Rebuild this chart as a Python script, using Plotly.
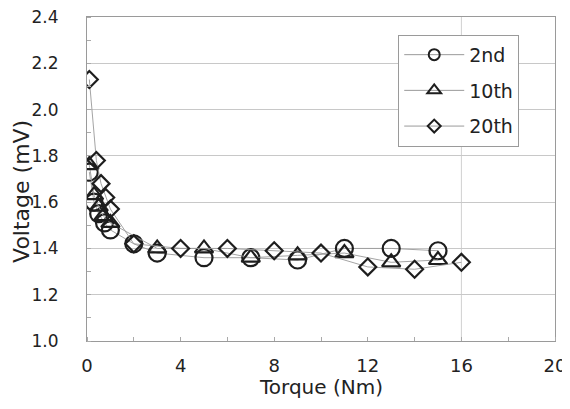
import plotly.graph_objects as go

# Data
torque_2nd = [0.1, 0.3, 0.5, 0.75, 1.0, 2, 3, 5, 7, 9, 11, 13, 15]
volt_2nd = [1.73, 1.60, 1.55, 1.51, 1.48, 1.42, 1.38, 1.36, 1.36, 1.35, 1.40, 1.40, 1.39]

torque_10th = [0.1, 0.3, 0.5, 0.7, 1.0, 3, 5, 7, 9, 11, 13, 15]
volt_10th = [1.76, 1.63, 1.58, 1.54, 1.51, 1.40, 1.40, 1.36, 1.37, 1.38, 1.34, 1.35]

torque_20th = [0.1, 0.4, 0.6, 0.8, 1.0, 2, 4, 6, 8, 10, 12, 14, 16]
volt_20th = [2.13, 1.78, 1.68, 1.62, 1.57, 1.42, 1.40, 1.40, 1.39, 1.38, 1.32, 1.31, 1.34]

series_names = ["2nd", "10th", "20th"]
x_ticks = [0, 4, 8, 12, 16, 20]
y_ticks = [1.0, 1.2, 1.4, 1.6, 1.8, 2.0, 2.2, 2.4]
x_title = "Torque (Nm)"
y_title = "Voltage (mV)"

FONT = "DejaVu Sans"
MC = "#1e1e1e"
LC = "#9a9a9a"

fig = go.Figure()

specs = [
    (torque_2nd, volt_2nd, "circle-open", 17, 11),
    (torque_10th, volt_10th, "triangle-up-open", 16, 12),
    (torque_20th, volt_20th, "diamond-open", 13, 10),
]

for (xs, ys, sym, sz, lsz), name in zip(specs, series_names):
    fig.add_trace(go.Scatter(
        x=xs, y=ys, mode="lines+markers", name=name, showlegend=False,
        line=dict(color=LC, width=0.9),
        marker=dict(symbol=sym, size=sz, color=MC, line=dict(color=MC, width=2.2)),
    ))

for (xs, ys, sym, sz, lsz), name in zip(specs, series_names):
    fig.add_trace(go.Scatter(
        x=[None], y=[None], mode="lines+markers", name=name, legendgroup=name,
        line=dict(color=LC, width=1),
        marker=dict(symbol=sym, size=lsz, color=MC, line=dict(color=MC, width=2)),
    ))

# vertical gridline at 16 visible in the reference
fig.add_shape(type="line", xref="x", yref="paper", x0=16, x1=16, y0=0, y1=1,
              line=dict(color="#d0d0d0", width=1), layer="below")

# axis titles as annotations for exact placement
fig.add_annotation(text=x_title, xref="paper", yref="paper", x=0.5, y=0,
                   xanchor="center", yanchor="middle", yshift=-46, showarrow=False,
                   font=dict(family=FONT, size=20, color="#222"))
fig.add_annotation(text=y_title, xref="paper", yref="paper", x=0, y=0.46,
                   xanchor="center", yanchor="middle", xshift=-65, textangle=-90,
                   showarrow=False, font=dict(family=FONT, size=22, color="#222"))

fig.update_layout(
    width=562, height=401,
    margin=dict(l=79, r=15, t=9, b=68, autoexpand=False),
    paper_bgcolor="white", plot_bgcolor="white",
    font=dict(family=FONT, color="#222"),
    legend=dict(
        x=0.665, y=0.945, xanchor="left", yanchor="top",
        bgcolor="white", bordercolor="#9a9a9a", borderwidth=1,
        font=dict(family=FONT, size=19, color="#222"),
        tracegroupgap=8, itemwidth=60,
    ),
    xaxis=dict(
        range=[0, 20], tickvals=x_ticks, ticktext=[str(v) for v in x_ticks],
        showgrid=False, zeroline=False, automargin=False,
        showline=True, linecolor="#9a9a9a", linewidth=1, mirror=True,
        ticks="", tickfont=dict(family=FONT, size=18, color="#222"),
        ticklabelstandoff=8, ticklabeloverflow="allow",
        minor=dict(dtick=2, ticks="inside", ticklen=4, tickcolor="#aaa"),
    ),
    yaxis=dict(
        range=[1.0, 2.4], tickvals=y_ticks, ticktext=[f"{v:.1f}" for v in y_ticks],
        showgrid=True, gridcolor="#c8c8c8", gridwidth=1, zeroline=False, automargin=False,
        showline=True, linecolor="#9a9a9a", linewidth=1, mirror=True,
        ticks="", tickfont=dict(family=FONT, size=17, color="#222"),
        ticklabelstandoff=24, ticklabeloverflow="allow",
        minor=dict(dtick=0.1, ticks="inside", ticklen=4, tickcolor="#aaa"),
    ),
)

fig.write_html("out.html")
